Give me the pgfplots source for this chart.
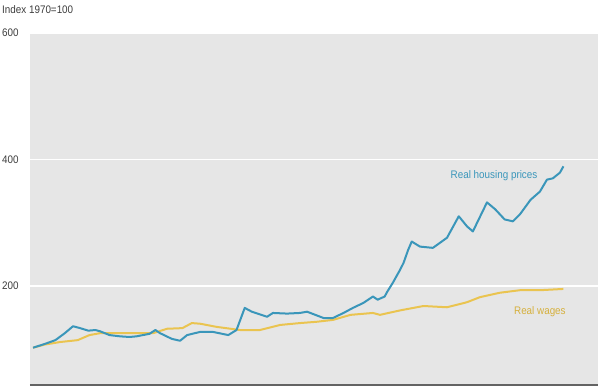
\documentclass[border=0pt]{standalone}
\usepackage{pgfplots}
\pgfplotsset{compat=1.18}
\usepackage{fontspec}
\setmainfont{Liberation Sans}[FakeStretch=0.9]
\definecolor{bgc}{RGB}{230,230,230}
\definecolor{bluec}{RGB}{58,150,186}
\definecolor{goldc}{RGB}{234,196,80}
\definecolor{goldtext}{RGB}{214,176,60}
\definecolor{textc}{RGB}{60,60,60}
\pgfplotstableread{
year value
1970.0 102
1971.0 108
1971.9 114
1972.7 125
1973.4 136
1974.0 133
1974.7 129
1975.3 130
1975.7 128
1976.5 122
1977.4 120
1978.2 119
1978.8 120
1979.9 124
1980.4 130
1980.8 125
1981.8 116
1982.5 113
1983.1 122
1984.2 127
1985.3 127
1986.6 122
1987.3 130
1988.0 165
1988.6 159
1989.9 151
1990.4 157
1991.6 156
1992.7 157
1993.3 159
1994.0 154
1994.7 149
1995.5 149
1996.4 157
1997.2 165
1998.1 173
1998.9 183
1999.3 178
1999.9 183
2000.1 190
2000.6 205
2001.2 225
2001.5 236
2001.9 257
2002.2 270
2002.9 262
2004.0 260
2005.2 276
2006.2 310
2006.9 294
2007.4 286
2008.6 332
2009.3 321
2010.1 305
2010.8 302
2011.4 313
2012.3 336
2013.1 349
2013.7 368
2014.2 370
2014.8 379
2015.1 389
}\housing
\pgfplotstableread{
year value
1970.0 102
1971.0 107
1972.3 111
1973.8 114
1974.8 122
1975.7 125
1977.4 125
1979.3 125
1980.2 125
1981.4 132
1982.7 133
1983.5 141
1984.2 140
1985.6 135
1987.6 130
1989.3 130
1991.0 138
1992.7 141
1994.1 143
1995.5 146
1997.0 154
1998.9 157
1999.5 154
2001.2 161
2003.2 168
2005.2 166
2006.9 174
2008.0 182
2009.7 189
2011.4 193
2013.1 193
2015.1 195
}\wages
\begin{document}
\begin{tikzpicture}
\useasboundingbox (0,0) rectangle (600bp,387bp);
\begin{axis}[
  at={(30bp,2bp)}, anchor=south west,
  scale only axis, width=568bp, height=352bp,
  xmin=1969.74, xmax=2018.04, ymin=43, ymax=600,
  axis background/.style={fill=bgc},
  axis line style={draw=none},
  xtick=\empty, ytick={200,400,600},
  ymajorgrids, grid style={white, line width=1.5bp},
  major tick length=0pt,
  yticklabel style={anchor=west, inner sep=0pt, xshift=-28bp, font=\fontsize{11}{13}\selectfont, text=textc},
  /pgf/number format/assume math mode=true,
  clip=false,
]
\addplot[goldc, line width=2bp, line join=round] table[x=year,y=value] {\wages};
\addplot[bluec, line width=2bp, line join=round] table[x=year,y=value] {\housing};
\draw[textc!80, line width=1.5bp] (rel axis cs:0,0) -- (rel axis cs:1,0);
\node[font=\fontsize{11}{13}\selectfont, text=bluec] at (axis cs:2009.2,374.6) {Real housing prices};
\node[font=\fontsize{11}{13}\selectfont, text=goldtext] at (axis cs:2013.1,158.7) {Real wages};
\end{axis}
\node[anchor=west, inner sep=0pt, font=\fontsize{11}{13}\selectfont, text=textc] at (2bp,377bp) {Index 1970=100};
\end{tikzpicture}
\end{document}
